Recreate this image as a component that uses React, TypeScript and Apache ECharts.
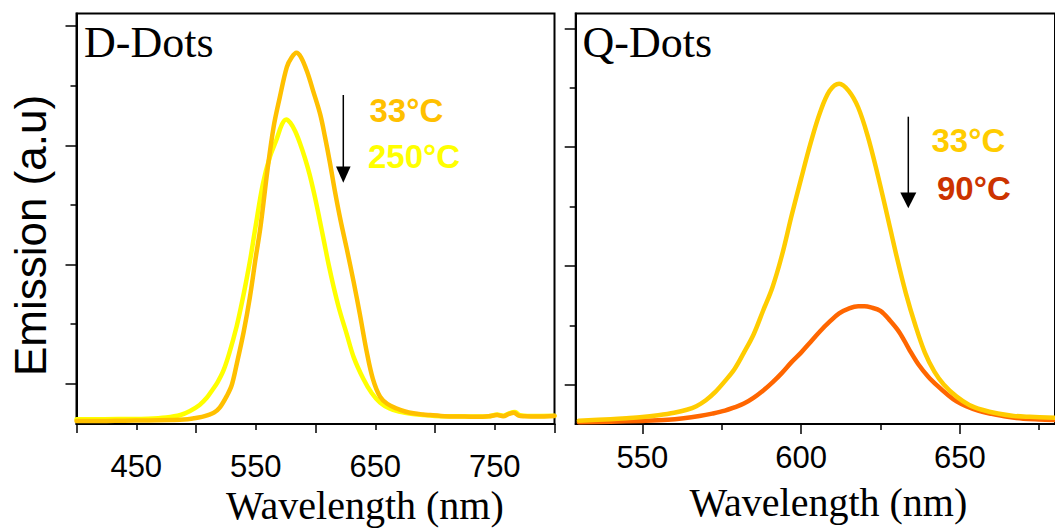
import React, { useEffect, useRef } from "react";
import * as echarts from "echarts";

// ---- D-Dots panel data ----
const dDotsWl250 = [400, 420, 440, 460, 475, 487, 495, 503, 509, 514, 518, 523, 528, 534, 538, 542, 546, 550, 556, 562, 567, 572, 575.5, 579, 583, 587, 591, 595, 599, 603, 607, 611, 615, 620, 626, 632, 640, 647, 654, 662, 670, 680, 690, 700, 715, 730, 745, 752, 757, 762, 767, 771, 780, 800];
const dDots250 = [0.04, 0.04, 0.042, 0.045, 0.055, 0.076, 0.11, 0.16, 0.22, 0.29, 0.35, 0.45, 0.6, 0.82, 1.0, 1.2, 1.42, 1.67, 2.02, 2.25, 2.38, 2.52, 2.56, 2.53, 2.46, 2.36, 2.24, 2.1, 1.93, 1.74, 1.54, 1.34, 1.16, 0.96, 0.76, 0.56, 0.38, 0.26, 0.18, 0.13, 0.105, 0.085, 0.075, 0.068, 0.065, 0.063, 0.066, 0.08, 0.07, 0.09, 0.1, 0.075, 0.068, 0.07];
const dDotsWl33 = [400, 420, 440, 460, 480, 490, 498, 505, 510, 515, 520, 526, 530, 534, 540, 545, 550, 554, 560, 565, 570, 576, 580, 584, 588, 593, 598, 604, 608, 612, 616, 621, 626, 632, 637, 643, 648, 654, 660, 668, 675, 682, 690, 696, 705, 715, 725, 735, 745, 752, 757, 762, 766, 770, 775, 785, 800];
const dDots33 = [0.025, 0.025, 0.028, 0.03, 0.034, 0.038, 0.048, 0.06, 0.075, 0.095, 0.14, 0.24, 0.33, 0.5, 0.78, 1.06, 1.4, 1.66, 2.15, 2.5, 2.74, 3.0, 3.08, 3.12, 3.08, 2.96, 2.8, 2.6, 2.41, 2.2, 1.97, 1.71, 1.48, 1.19, 0.93, 0.6, 0.38, 0.23, 0.17, 0.13, 0.105, 0.09, 0.08, 0.075, 0.068, 0.062, 0.063, 0.06, 0.065, 0.075, 0.065, 0.085, 0.095, 0.07, 0.065, 0.062, 0.068];

// ---- Q-Dots panel data ----
const qDotsWl33 = [530, 540, 545, 550, 555, 560, 564, 567, 570, 573, 576, 579, 582, 585, 588, 591, 594, 597, 600, 603, 606, 609, 612, 615, 618, 621, 624, 627, 630, 633, 636, 639, 642, 645, 649, 653, 657, 662, 667, 672, 680];
const qDots33 = [0.028, 0.04, 0.048, 0.058, 0.074, 0.095, 0.12, 0.15, 0.2, 0.27, 0.36, 0.46, 0.6, 0.75, 0.95, 1.15, 1.42, 1.75, 2.06, 2.36, 2.62, 2.8, 2.86, 2.8, 2.66, 2.42, 2.11, 1.77, 1.42, 1.1, 0.83, 0.6, 0.44, 0.33, 0.23, 0.16, 0.12, 0.088, 0.068, 0.06, 0.052];
const qDotsWl90 = [530, 540, 550, 558, 563, 568, 572, 576, 579, 582, 585, 588, 591, 594, 597, 600, 603, 606, 609, 612, 615, 618, 620, 622, 625, 628, 631, 634, 637, 640, 643, 646, 649, 652, 656, 660, 665, 670, 675, 680];
const qDots90 = [0.014, 0.019, 0.026, 0.035, 0.048, 0.067, 0.087, 0.112, 0.14, 0.172, 0.22, 0.28, 0.35, 0.43, 0.52, 0.6, 0.69, 0.78, 0.86, 0.93, 0.97, 0.99, 0.99, 0.98, 0.95, 0.87, 0.77, 0.63, 0.5, 0.4, 0.32, 0.25, 0.19, 0.15, 0.11, 0.085, 0.06, 0.045, 0.038, 0.033];

// ---- ticks / labels ----
const dXLabels = [450, 550, 650, 750];
const qXMajor = [550, 600, 650];
const qXMinor = [575, 625, 675];
const dYMajor = [0.342, 1.342, 2.342, 3.345];
const dYMinor = [0.842, 1.842, 2.842];
const qYMajor = [0.328, 1.328, 2.328, 3.325];
const qYMinor = [0.828, 1.828, 2.828];

const panelTitles = ["D-Dots", "Q-Dots"];
const xTitle = "Wavelength (nm)";
const yTitle = "Emission (a.u)";
const dLegend = ["33°C", "250°C"];
const qLegend = ["33°C", "90°C"];

const zip = (xs: number[], ys: number[]) => xs.map((x, i) => [x, ys[i]]);

const SANS = "'Liberation Sans', Arial, sans-serif";
const SERIF = "'Liberation Serif', 'Times New Roman', serif";

export default function App() {
  const ref = useRef<HTMLDivElement>(null);
  useEffect(() => {
    document.body.style.margin = "0";
    const chart = echarts.init(ref.current!, null, { renderer: "svg" });
    const YMAX = 3.45;
    const gL = { left: 76.5, top: 13.5, width: 478, height: 410.5 };
    const gR = { left: 575.7, top: 13.5, width: 486.2, height: 410.5 };
    const axisLine = { show: true, lineStyle: { color: "#000", width: 2 } };
    const tickStyle = { color: "#000", width: 1.5 };
    const hiddenX = (gi: number, min: number, max: number, minorVals: number[]) => ({
      type: "value", gridIndex: gi, min, max,
      axisLine: { show: false }, splitLine: { show: false },
      axisLabel: { show: false },
      axisTick: { show: true, customValues: minorVals, length: 6, lineStyle: tickStyle },
    });
    const hiddenY = (gi: number, minorVals: number[]) => ({
      type: "value", gridIndex: gi, min: 0, max: YMAX,
      axisLine: { show: false }, splitLine: { show: false },
      axisLabel: { show: false },
      axisTick: { show: true, customValues: minorVals, length: 6, lineStyle: tickStyle },
    });
    const line = (name: string, data: number[][], color: string, xi: number) => ({
      name, type: "line", xAxisIndex: xi, yAxisIndex: xi, data,
      showSymbol: false, symbol: "none", smooth: 0.35,
      lineStyle: { color, width: 4.5, cap: "round", join: "round" }, itemStyle: { color },
    });
    const txt = (text: string, x: number, y: number, size: number, fill: string, family: string, weight = "normal", extra: any = {}) => ({
      type: "text", x, y, ...extra,
      style: {
        text, fill, fontSize: size, fontFamily: family, fontWeight: weight,
        align: "left", verticalAlign: "middle", textAlign: "left", textVerticalAlign: "middle",
      },
    });
    const option: any = {
      animation: false,
      grid: [
        { ...gL, show: true, borderColor: "#000", borderWidth: 2, backgroundColor: "transparent" },
        { ...gL, show: false },
        { ...gR, show: true, borderColor: "#000", borderWidth: 2, backgroundColor: "transparent" },
        { ...gR, show: false },
      ],
      xAxis: [
        {
          type: "value", gridIndex: 0, min: 400, max: 800, interval: 100,
          axisLine, splitLine: { show: false },
          axisTick: { show: true, length: 9, lineStyle: tickStyle },
          minorTick: { show: true, splitNumber: 2, length: 6, lineStyle: tickStyle },
          minorSplitLine: { show: false },
          axisLabel: { customValues: dXLabels, fontSize: 31, color: "#000", fontFamily: SANS, margin: 27 },
        },
        { ...hiddenX(1, 400, 800, []), axisTick: { show: false } },
        {
          type: "value", gridIndex: 2, min: 529, max: 680,
          axisLine, splitLine: { show: false },
          axisTick: { show: true, customValues: qXMajor, length: 10, lineStyle: tickStyle },
          axisLabel: { customValues: qXMajor, fontSize: 31, color: "#000", fontFamily: SANS, margin: 18 },
        },
        hiddenX(3, 529, 680, qXMinor),
      ],
      yAxis: [
        {
          type: "value", gridIndex: 0, min: 0, max: YMAX,
          axisLine, splitLine: { show: false }, axisLabel: { show: false },
          axisTick: { show: true, customValues: dYMajor, length: 11, lineStyle: tickStyle },
        },
        hiddenY(1, dYMinor),
        {
          type: "value", gridIndex: 2, min: 0, max: YMAX,
          axisLine, splitLine: { show: false }, axisLabel: { show: false },
          axisTick: { show: true, customValues: qYMajor, length: 11, lineStyle: tickStyle },
        },
        hiddenY(3, qYMinor),
      ],
      series: [
        line("D-Dots 250°C", zip(dDotsWl250, dDots250), "#FFFF00", 0),
        line("D-Dots 33°C", zip(dDotsWl33, dDots33), "#FFC000", 0),
        line("Q-Dots 90°C", zip(qDotsWl90, qDots90), "#FF6600", 2),
        line("Q-Dots 33°C", zip(qDotsWl33, qDots33), "#FFCC00", 2),
      ],
      graphic: [
        txt(panelTitles[0], 84, 42, 44, "#000", SERIF),
        txt(panelTitles[1], 582.5, 42, 44, "#000", SERIF),
        txt(xTitle, 226, 505, 40, "#000", SERIF),
        txt(xTitle, 689.5, 502, 40, "#000", SERIF),
        {
          type: "text", x: 30, y: 235.5, rotation: Math.PI / 2,
          style: {
            text: yTitle, fill: "#000", fontSize: 44, fontFamily: SANS,
            align: "center", verticalAlign: "middle", textAlign: "center", textVerticalAlign: "middle",
          },
        },
        txt(dLegend[0], 369.5, 110.6, 33, "#FFC000", SANS, "bold"),
        txt(dLegend[1], 368, 156.6, 33, "#FFFF00", SANS, "bold"),
        txt(qLegend[0], 931.5, 140.6, 33, "#FFCC00", SANS, "bold"),
        txt(qLegend[1], 937, 188.2, 33, "#CC3300", SANS, "bold"),
        { type: "line", shape: { x1: 343.3, y1: 95, x2: 343.3, y2: 170 }, style: { stroke: "#000", lineWidth: 1.5 } },
        { type: "polygon", shape: { points: [[336, 166.5], [350.6, 166.5], [343.3, 182.7]] }, style: { fill: "#000" } },
        { type: "line", shape: { x1: 908.3, y1: 116.7, x2: 908.3, y2: 196 }, style: { stroke: "#000", lineWidth: 1.5 } },
        { type: "polygon", shape: { points: [[900.3, 192.5], [916.3, 192.5], [908.3, 208.3]] }, style: { fill: "#000" } },
      ],
    };
    chart.setOption(option);
    return () => chart.dispose();
  }, []);
  return <div ref={ref} style={{ width: 1055, height: 529 }} />;
}
